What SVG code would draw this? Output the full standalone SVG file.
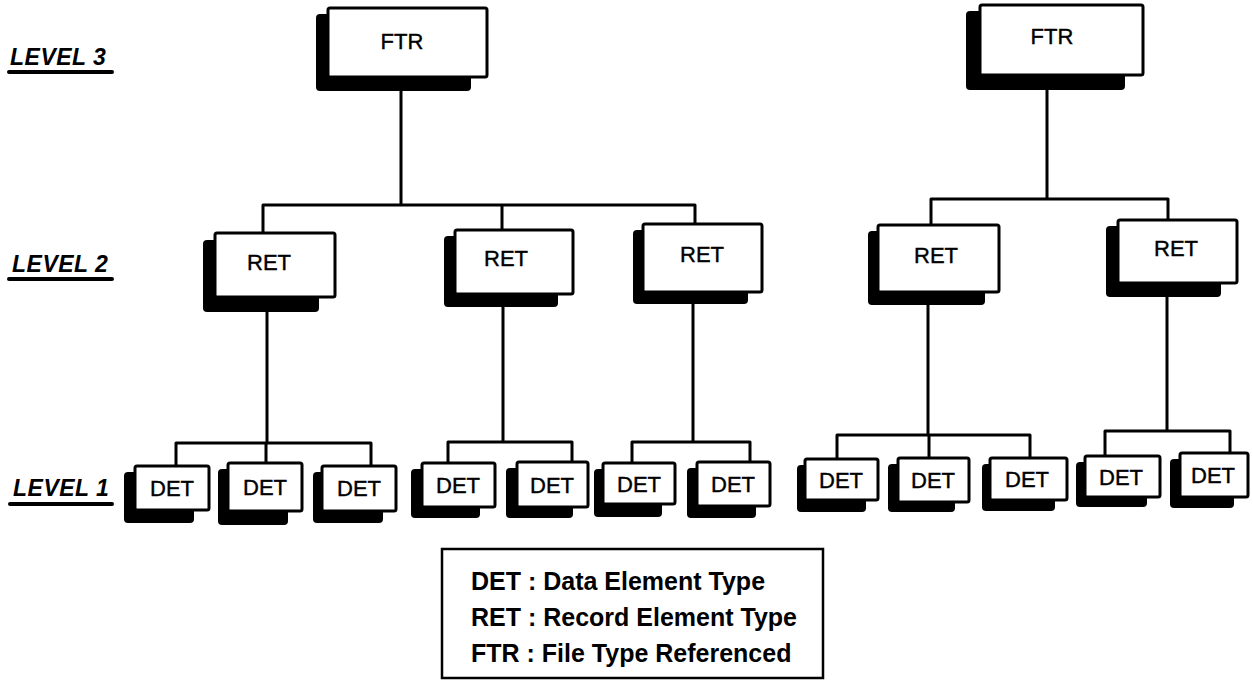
<svg xmlns="http://www.w3.org/2000/svg" width="1253" height="682" viewBox="0 0 1253 682">
<style>
.box{fill:#fff;stroke:#000;stroke-width:3}
.sh{fill:#000}
.lbl{font-family:"Liberation Sans",Arial,sans-serif;font-size:22px;fill:#000;stroke:#000;stroke-width:0.4;text-anchor:middle}
.lvl{font-family:"Liberation Sans",Arial,sans-serif;font-size:23px;font-style:italic;font-weight:bold;fill:#000;letter-spacing:0.5px}
.ul{stroke:#000;stroke-width:4;stroke-linecap:round}
.leg{font-family:"Liberation Sans",Arial,sans-serif;font-size:25px;font-weight:bold;fill:#000}
.con{fill:none;stroke:#000;stroke-width:3;stroke-linejoin:round}
</style>
<rect width="1253" height="682" fill="#fff"/>
<g id="levels">
<text class="lvl" x="10" y="65">LEVEL  3</text><line class="ul" x1="9" y1="72" x2="112" y2="72"/>
<text class="lvl" x="12" y="272">LEVEL  2</text><line class="ul" x1="9" y1="279" x2="112" y2="279"/>
<text class="lvl" x="13" y="496">LEVEL  1</text><line class="ul" x1="10" y1="504" x2="112" y2="504"/>
</g>
<g id="connectors">
<path class="con" d="M401 77V205M263 232V205H695V224M502 205V230"/>
<path class="con" d="M1047 75V199M931 225V199H1168V220"/>
<path class="con" d="M267 296V443M176 466V443H371V466M266 443V463"/>
<path class="con" d="M503 294V442M448 463V442H572V462"/>
<path class="con" d="M693 292V442M632 463V442H750V462"/>
<path class="con" d="M928 292V435M837 459V435H1030V458M929 435V458"/>
<path class="con" d="M1167 283V431M1105 456V431H1230V453"/>
</g>
<g id="ftr1"><rect class="sh" x="316" y="14" width="155" height="77" rx="4"/><rect class="box" x="328" y="8" width="159" height="69" rx="2"/><text class="lbl" x="402" y="49">FTR</text></g>
<g id="ftr2"><rect class="sh" x="966" y="11" width="159" height="79" rx="4"/><rect class="box" x="980" y="5" width="163" height="70" rx="2"/><text class="lbl" x="1052" y="44">FTR</text></g>
<g id="ret1"><rect class="sh" x="203" y="240" width="116" height="72" rx="4"/><rect class="box" x="215" y="233" width="120" height="64" rx="2"/><text class="lbl" x="269" y="270">RET</text></g>
<g id="ret2"><rect class="sh" x="444" y="236" width="114" height="71" rx="4"/><rect class="box" x="455" y="230" width="118" height="64" rx="2"/><text class="lbl" x="506" y="266">RET</text></g>
<g id="ret3"><rect class="sh" x="633" y="230" width="115" height="74" rx="4"/><rect class="box" x="643" y="224" width="119" height="68" rx="2"/><text class="lbl" x="702" y="262">RET</text></g>
<g id="ret4"><rect class="sh" x="868" y="231" width="117" height="74" rx="4"/><rect class="box" x="878" y="225" width="121" height="67" rx="2"/><text class="lbl" x="936" y="263">RET</text></g>
<g id="ret5"><rect class="sh" x="1106" y="226" width="115" height="71" rx="4"/><rect class="box" x="1118" y="220" width="119" height="63" rx="2"/><text class="lbl" x="1176" y="256">RET</text></g>
<g id="det1"><rect class="sh" x="124" y="472" width="70" height="51" rx="4"/><rect class="box" x="135" y="466" width="74" height="44" rx="2"/><text class="lbl" x="172" y="496">DET</text></g>
<g id="det2"><rect class="sh" x="218" y="469" width="70" height="56" rx="4"/><rect class="box" x="228" y="463" width="74" height="48" rx="2"/><text class="lbl" x="265" y="495">DET</text></g>
<g id="det3"><rect class="sh" x="313" y="472" width="70" height="51" rx="4"/><rect class="box" x="322" y="466" width="74" height="45" rx="2"/><text class="lbl" x="359" y="496">DET</text></g>
<g id="det4"><rect class="sh" x="411" y="469" width="69" height="49" rx="4"/><rect class="box" x="422" y="463" width="73" height="44" rx="2"/><text class="lbl" x="458" y="493">DET</text></g>
<g id="det5"><rect class="sh" x="506" y="468" width="67" height="50" rx="4"/><rect class="box" x="517" y="462" width="71" height="45" rx="2"/><text class="lbl" x="552" y="493">DET</text></g>
<g id="det6"><rect class="sh" x="594" y="469" width="68" height="48" rx="4"/><rect class="box" x="603" y="463" width="72" height="41" rx="2"/><text class="lbl" x="639" y="492">DET</text></g>
<g id="det7"><rect class="sh" x="687" y="468" width="69" height="50" rx="4"/><rect class="box" x="697" y="462" width="73" height="44" rx="2"/><text class="lbl" x="733" y="492">DET</text></g>
<g id="det8"><rect class="sh" x="797" y="465" width="69" height="47" rx="4"/><rect class="box" x="805" y="459" width="73" height="41" rx="2"/><text class="lbl" x="841" y="488">DET</text></g>
<g id="det9"><rect class="sh" x="888" y="464" width="67" height="48" rx="4"/><rect class="box" x="898" y="458" width="71" height="44" rx="2"/><text class="lbl" x="933" y="488">DET</text></g>
<g id="det10"><rect class="sh" x="982" y="464" width="73" height="47" rx="4"/><rect class="box" x="990" y="458" width="77" height="42" rx="2"/><text class="lbl" x="1027" y="487">DET</text></g>
<g id="det11"><rect class="sh" x="1076" y="462" width="71" height="45" rx="4"/><rect class="box" x="1085" y="456" width="75" height="41" rx="2"/><text class="lbl" x="1121" y="485">DET</text></g>
<g id="det12"><rect class="sh" x="1170" y="459" width="64" height="49" rx="4"/><rect class="box" x="1180" y="453" width="68" height="44" rx="2"/><text class="lbl" x="1213" y="483">DET</text></g>
<g id="legend">
<rect x="442" y="549" width="381" height="129" fill="#fff" stroke="#000" stroke-width="2.5"/>
<text class="leg" x="471" y="590">DET : Data Element Type</text>
<text class="leg" x="471" y="626">RET : Record Element Type</text>
<text class="leg" x="471" y="662">FTR : File Type Referenced</text>
</g>
</svg>
